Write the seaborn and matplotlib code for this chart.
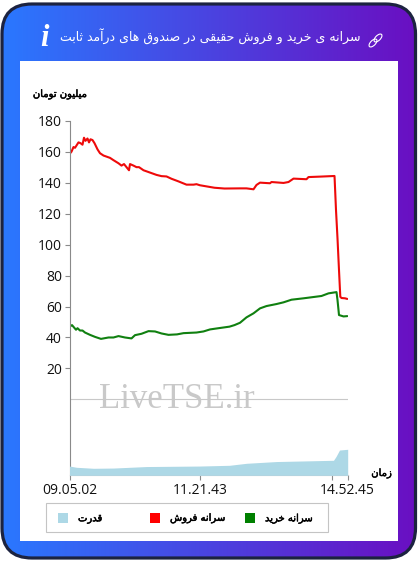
"""
Per-capita buy and sell chart inside a gradient card
"""
import matplotlib
matplotlib.use('Agg')
import matplotlib.pyplot as plt
from matplotlib.patches import FancyBboxPatch, Rectangle, Ellipse
import matplotlib.patheffects as pe
import numpy as np
import pandas as pd
import seaborn as sns

# sample numbers along the time axis with the values
sell_x = [0, 2, 4, 5.5, 7, 9, 11, 13, 14.5, 16, 18, 19.5, 21, 23, 25, 28, 30.5, 34, 40.5, 44, 49, 52,
          54.5, 57, 59.5, 60.5, 64, 67, 69.5, 74, 80.5, 87, 92, 97, 102, 109, 117, 124, 127, 130.5,
          145, 155, 170.5, 177, 184, 187, 190.5, 200.5, 202, 214, 219, 224, 237, 239, 251, 265,
          265.2, 266.5, 268, 269.5, 270.8, 272, 275.5, 277.8]
sell_vals = [158.5, 160, 163, 162.5, 164, 166, 165.5, 164.5, 169, 167, 168.5, 166, 168, 167.5, 165.5, 161.5,
             159, 157.5, 156, 154.5, 152.5, 151, 152, 150, 148, 152, 151, 150, 150, 148, 146.5, 145,
             144.2, 144, 142.5, 140.8, 138.7, 138.7, 139, 138.3,
             136.7, 136.2, 136.3, 136.3, 135.7, 138.5, 140, 139.6, 140.4, 139.8, 140.4, 142.6, 142.2, 143.6,
             143.9, 144.3, 141.7, 122.3, 104, 83.5, 66.3, 65.5, 65.3, 64.9]
buy_x = [0.5, 2.5, 4.5, 6.5, 8, 10.5, 13, 15.5, 20.5, 25.5, 31.5, 39, 44, 49, 55.5, 62, 65.5, 72, 79, 85.5,
         92, 99, 107.5, 114, 127, 134, 140.5, 149, 160, 165, 170.5, 177, 184, 190.5, 197, 207, 214, 222,
         234, 252, 259, 267, 268, 269.5, 274, 277.8]
buy_vals = [47.1, 48, 46.5, 45, 46, 44.5, 44.5, 43.2, 41.7, 40.4, 39.1, 40, 40, 40.9, 40, 39.4, 41.5, 42.4,
            44.1, 43.9, 42.6, 41.7, 42, 42.8, 43.2, 43.9, 45.2, 46, 47, 48, 49.5, 53, 55.6, 58.8, 60.3, 61.6,
            62.7, 64.4, 65.3, 66.8, 68.5, 69.3, 64.2, 54.5, 53.6, 53.8]
power_x = [0, 7, 24, 44, 77, 130, 160, 177, 207, 230, 264, 266.5, 270, 278.2]
power_vals = [0.37, 0.32, 0.28, 0.29, 0.35, 0.37, 0.40, 0.48, 0.55, 0.57, 0.60, 0.75, 1.01, 1.04]

y_ticks = [20, 40, 60, 80, 100, 120, 140, 160, 180]
x_ticks = [0, 130.8, 262.2, 278.2]
x_labels = ['09.05.02', '11.21.43', '', '14.52.45']

title_text = 'سرانه ی خرید و فروش حقیقی در صندوق های درآمد ثابت'
y_label = 'میلیون تومان'
x_label = 'زمان'
legend_labels = ['قدرت', 'سرانه فروش', 'سرانه خرید']
legend_colors = ['#add8e6', '#ff0000', '#008000']
legend_swatch_x = [58, 150, 245]

W, H = 418, 562

# first code point of the isolated form, forms run isolated, final, initial, medial
DUAL = {'ب': 0xFE8F, 'ت': 0xFE95, 'ث': 0xFE99, 'ح': 0xFEA1, 'خ': 0xFEA5, 'س': 0xFEB1, 'ش': 0xFEB5,
        'ص': 0xFEB9, 'ف': 0xFED1, 'ق': 0xFED5, 'ل': 0xFEDD, 'م': 0xFEE1, 'ن': 0xFEE5, 'ه': 0xFEE9,
        'ی': 0xFBFC}
RIGHT = {'ا': 0xFE8D, 'آ': 0xFE81, 'د': 0xFEA9, 'ر': 0xFEAD, 'ز': 0xFEAF, 'و': 0xFEED}


def shape(text):
    """matplotlib does no Arabic shaping, so pick the joined forms and reverse"""
    out = []
    for i, ch in enumerate(text):
        if ch not in DUAL and ch not in RIGHT:
            out.append(ch)
            continue
        before = i > 0 and text[i - 1] in DUAL
        after = i + 1 < len(text) and (text[i + 1] in DUAL or text[i + 1] in RIGHT)
        if ch in RIGHT:
            out.append(chr(RIGHT[ch] + (1 if before else 0)))
        else:
            offset = {(False, False): 0, (True, False): 1, (False, True): 2, (True, True): 3}[(before, after)]
            out.append(chr(DUAL[ch] + offset))
    return ''.join(reversed(out))


def px_rect(left, top, right, bottom):
    """Figure fraction rectangle from pixel edges"""
    return [left / W, 1 - bottom / H, (right - left) / W, (bottom - top) / H]


def label(axes, x, y, text, ha='right'):
    """Small heavy Persian label"""
    return axes.text(x, y, shape(text), color='black', fontsize=7.2, ha=ha, va='center',
                     family='DejaVu Sans',
                     path_effects=[pe.withStroke(linewidth=0.35, foreground='black')])


sns.set_style('white')
plt.rcParams['font.family'] = ['Open Sans', 'DejaVu Sans']

fig = plt.figure(figsize=(W / 100, H / 100), dpi=100)

# card background in pixel coordinates
bg = fig.add_axes([0, 0, 1, 1])
bg.set_xlim(0, W)
bg.set_ylim(H, 0)
bg.axis('off')
gradient = np.linspace(0, 1, 256).reshape(1, -1)
cmap = matplotlib.colors.LinearSegmentedColormap.from_list('card', ['#2a78ff', '#6a0fc2'])
img = bg.imshow(gradient, extent=[2, 415.5, 558, 4], cmap=cmap, aspect='auto')
card = FancyBboxPatch((32, 34), 353.5, 494, boxstyle='round,pad=30,rounding_size=30',
                      fc='none', ec='#1c2340', lw=2.3)
bg.add_patch(card)
img.set_clip_path(card)
bg.set_xlim(0, W)
bg.set_ylim(H, 0)
bg.add_patch(Rectangle((20, 61), 378, 480, fc='white', ec='none'))

bg.text(361, 37, shape(title_text), color='white', fontsize=9.0, ha='right', va='center',
        family='DejaVu Sans')
bg.text(44, 39, 'i', color='white', fontsize=22, fontweight='bold', style='italic', ha='center',
        va='center', family='Liberation Serif')
bg.add_patch(Ellipse((373, 43), 5, 10, angle=45, fc='none', ec='white', lw=0.8))
bg.add_patch(Ellipse((378, 38), 5, 10, angle=45, fc='none', ec='white', lw=0.8))
label(bg, 87, 94, y_label)
label(bg, 392, 473, x_label)

# chart
ax = fig.add_axes(px_rect(69.5, 120.7, 347.7, 475.3))
ax.patch.set_alpha(0)
sell = pd.DataFrame({'x': sell_x, 'y': sell_vals})
buy = pd.DataFrame({'x': buy_x, 'y': buy_vals})
sns.lineplot(data=sell, x='x', y='y', color='#ee0a0a', lw=1.5, sort=False, errorbar=None, ax=ax)
sns.lineplot(data=buy, x='x', y='y', color='#108010', lw=1.5, sort=False, errorbar=None, ax=ax)
ax.axhline(0, color='#c8c8c8', lw=0.8, zorder=1)

ax.set_xlim(0, 278.2)
ax.set_ylim(-49, 180)
ax.set_xlabel('')
ax.set_ylabel('')
ax.set_yticks(y_ticks)
ax.set_xticks(x_ticks)
ax.set_xticklabels(x_labels)
ax.tick_params(axis='both', length=3.5, width=0.8, color='#8a8a8a', labelsize=10, labelcolor='#111111',
               left=True, bottom=True, pad=2)
sns.despine(ax=ax)
ax.spines['left'].set_color('#8a8a8a')
ax.spines['bottom'].set_color('#c8c8c8')

# power uses its own scale along the bottom of the plot
ax2 = ax.twinx()
ax2.fill_between(power_x, power_vals, color='#add8e6', lw=0)
ax2.set_ylim(0, 14.18)
ax2.axis('off')

bg.text(176.5, 400, 'LiveTSE.ir', color='#c9c9c9', fontsize=25, ha='center', va='center',
        family='Liberation Serif', zorder=5)

# legend box, swatches sit left of their labels
bg.add_patch(Rectangle((46.3, 503.3), 282, 28.7, fc='white', ec='#c4c4c4', lw=0.8))
for sx, color, text in zip(legend_swatch_x, legend_colors, legend_labels):
    bg.add_patch(Rectangle((sx, 513.3), 10, 10, fc=color, ec='none'))
    label(bg, sx + 20, 518.3, text, ha='left')

fig.savefig('out.png', dpi=100)
plt.close(fig)
